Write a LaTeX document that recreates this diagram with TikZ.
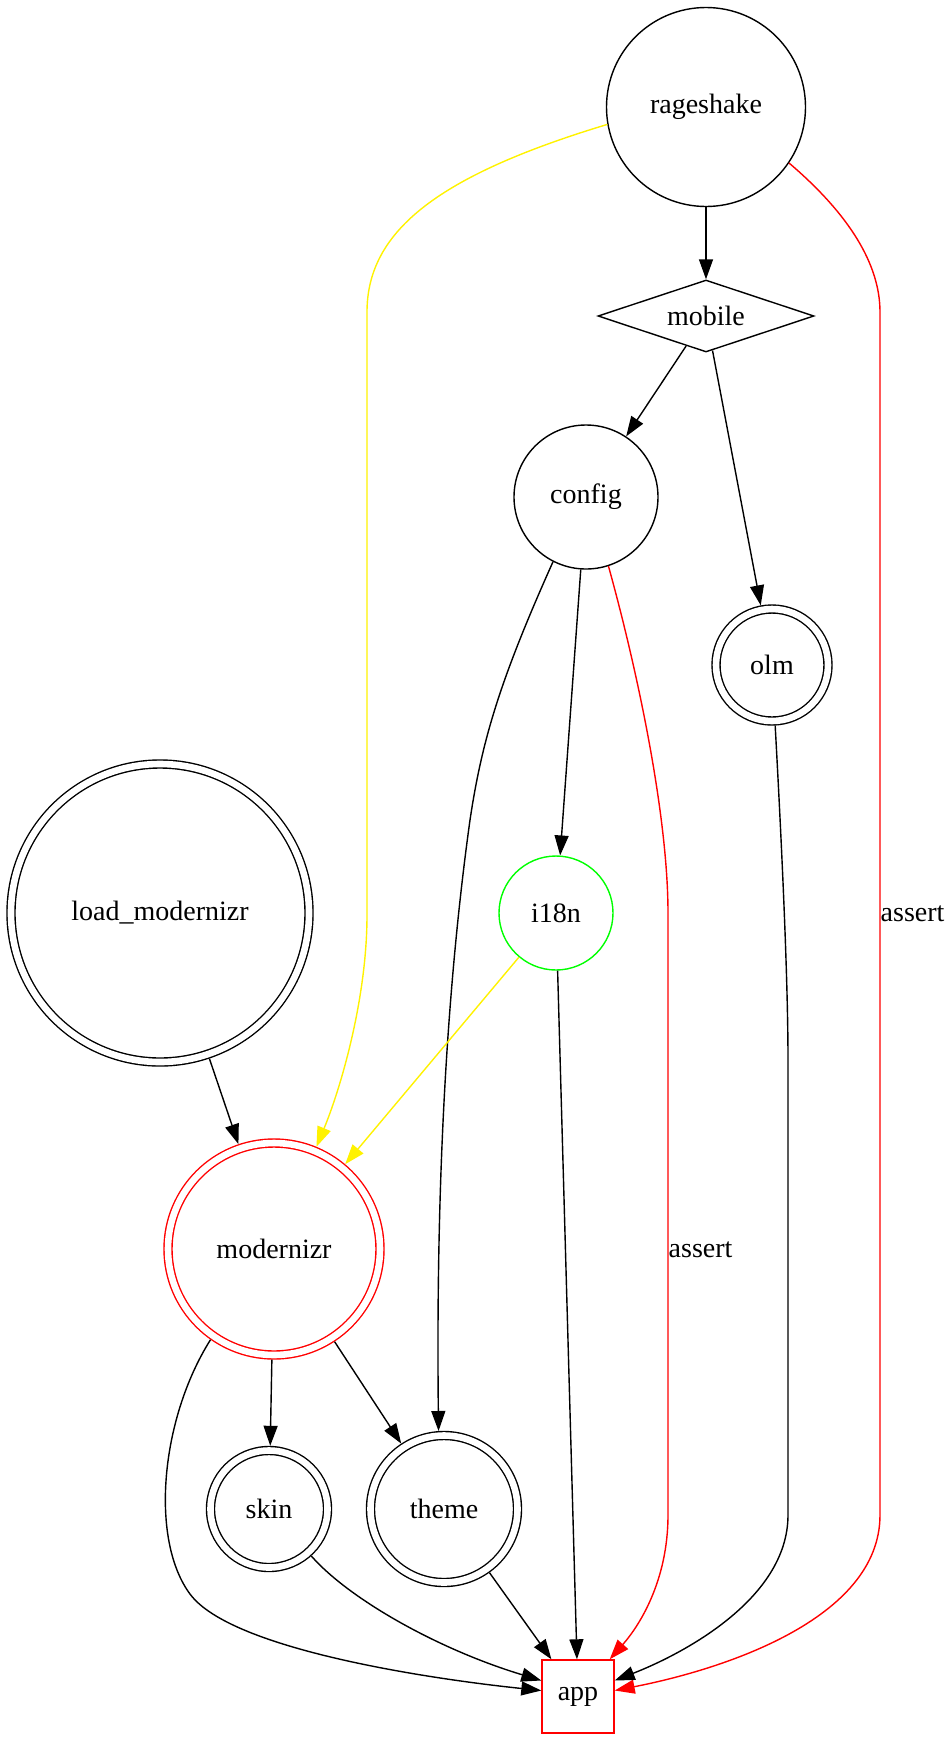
\documentclass[tikz,border=0pt]{standalone}
\usepackage{fontspec}
\setmainfont{Liberation Serif}
\usetikzlibrary{shapes.geometric,arrows.meta}
\tikzset{
  ring/.style={circle,draw,line width=0.7pt,inner sep=0pt,font=\fontsize{14}{16}\selectfont},
  dring/.style={ring,double,double distance=3.3pt,outer sep=2.35pt},
  dep/.style={line width=0.7pt,-{Triangle[length=10pt,width=7pt]}},
  lbl/.style={right,inner sep=0pt,text=black,font=\fontsize{14}{16}\selectfont},
}
\begin{document}
\begin{tikzpicture}[x=0.5pt,y=-0.5pt]
\useasboundingbox (0,0) rectangle (952,1741);

\node[ring,minimum size=99.5pt] (rageshake) at (706,107) {rageshake};
\node[diamond,draw,line width=0.7pt,inner sep=0pt,shape aspect=3,minimum width=108pt,minimum height=36pt,font=\fontsize{14}{16}\selectfont] (mobile) at (706,316) {mobile};
\node[ring,minimum size=72pt] (config) at (586,497) {config};
\node[dring,minimum size=56pt] (olm) at (772,665) {olm};
\node[dring,minimum size=149pt] (loadmod) at (160,913) {load\_modernizr};
\node[ring,draw=green,minimum size=57pt] (i18n) at (556,913) {i18n};
\node[dring,draw=red,minimum size=106pt] (modernizr) at (274,1249) {modernizr};
\node[dring,minimum size=58.5pt] (skin) at (269,1509) {skin};
\node[dring,minimum size=73.5pt] (theme) at (444,1509) {theme};
\node[draw=red,line width=0.7pt,inner sep=0pt,minimum width=36pt,minimum height=36.5pt,font=\fontsize{14}{16}\selectfont] (app) at (578,1696.5) {app};

\draw[dep] (rageshake) -- (mobile);
\draw[dep,yellow] (rageshake.190) .. controls (440,175) and (367,230) .. (367,312) -- (367,915) .. controls (367,1000) and (340,1090) .. (modernizr);
\draw[dep,red] (rageshake.326) .. controls (850,215) and (880,265) .. (880,312) -- node[lbl,midway] {assert} (880,1515) .. controls (880,1620) and (720,1670) .. ([yshift=3pt]app.east);
\draw[dep] (mobile) -- (config);
\draw[dep] (mobile) -- (olm);
\draw[dep] (config) -- (i18n);
\draw[dep] (config.243) .. controls (500,680) and (482,740) .. (470,820) .. controls (445,1000) and (436,1200) .. (theme.94);
\draw[dep,red] (config.288) .. controls (640,680) and (668,820) .. (668,913) -- node[lbl,pos=0.56] {assert} (668,1515) .. controls (668,1580) and (640,1625) .. ([xshift=-2.5pt]app.north east);
\draw[dep] (olm.273) .. controls (782,850) and (788,980) .. (788,1060) -- (788,1515) .. controls (788,1600) and (680,1655) .. ([yshift=8pt]app.east);
\draw[dep] (loadmod) -- (modernizr);
\draw[dep,yellow] (i18n) -- (modernizr);
\draw[dep] (i18n) -- (app);
\draw[dep] (modernizr) -- (skin);
\draw[dep] (modernizr) -- (theme);
\draw[dep] (modernizr.235) .. controls (160,1420) and (150,1540) .. (190,1594) .. controls (232,1651) and (440,1680) .. ([yshift=3pt]app.west);
\draw[dep] (skin.312) .. controls (350,1600) and (440,1650) .. ([yshift=8pt]app.west);
\draw[dep] (theme) -- (app);
\end{tikzpicture}
\end{document}
